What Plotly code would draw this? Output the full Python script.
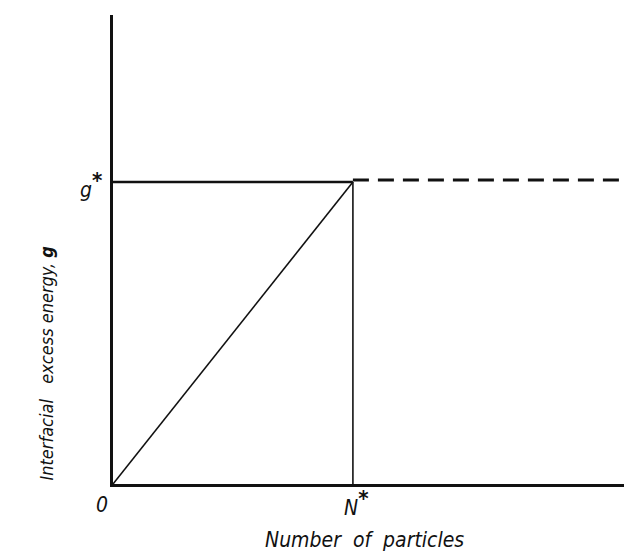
import plotly.graph_objects as go

# Schematic: interfacial excess energy vs. number of particles
n_star = 1.0          # critical number of particles N*
g_star = 1.0          # interfacial excess energy at N*
x_max = 2.13          # right end of the particle-number axis
y_max = 1.553         # top of the energy axis

axis_labels = ["0", "N", "g"]
x_title = "Number  of  particles"
y_title = "Interfacial   excess energy, <b>g</b>"

FONT = "Liberation Sans Narrow, Arial Narrow, DejaVu Sans Condensed, sans-serif"
INK = "#111111"
STAR = "<sup><span style='font-size:22px'><b>*</b></span></sup>"

fig = go.Figure()

# diagonal from the origin to (N*, g*)
fig.add_trace(go.Scatter(x=[0, n_star], y=[0, g_star], mode="lines",
                         line=dict(color=INK, width=1.6), hoverinfo="skip"))
# horizontal g* level up to N*
fig.add_trace(go.Scatter(x=[0, n_star], y=[g_star, g_star], mode="lines",
                         line=dict(color=INK, width=2.6), hoverinfo="skip"))
# vertical line at N*
fig.add_trace(go.Scatter(x=[n_star, n_star], y=[0, g_star], mode="lines",
                         line=dict(color=INK, width=1.6), hoverinfo="skip"))
# dashed continuation beyond N*
fig.add_trace(go.Scatter(x=[n_star, x_max], y=[g_star * 1.007, g_star * 1.007], mode="lines",
                         line=dict(color=INK, width=3, dash="16px,9px"), hoverinfo="skip"))

fig.update_xaxes(range=[0, x_max], showline=True, linecolor=INK, linewidth=2.5,
                 showgrid=False, zeroline=False, showticklabels=False, ticks="")
fig.update_yaxes(range=[0, y_max], showline=True, linecolor=INK, linewidth=2.5,
                 showgrid=False, zeroline=False, showticklabels=False, ticks="")

lab_font = dict(family=FONT, size=21, color=INK)
fig.add_annotation(x=0, y=0, xref="x", yref="y", text="<i>" + axis_labels[0] + "</i>",
                   showarrow=False, xshift=-11, yshift=-21, font=lab_font)
fig.add_annotation(x=n_star, y=0, xref="x", yref="y",
                   text="<i>" + axis_labels[1] + "</i>" + STAR, showarrow=False,
                   xshift=4, yshift=-19, font=lab_font)
fig.add_annotation(x=0, y=g_star, xref="x", yref="y",
                   text="<i>" + axis_labels[2] + "</i>" + STAR, showarrow=False,
                   xshift=-22, yshift=-3, font=lab_font)

fig.add_annotation(x=0.493, y=-0.119, xref="paper", yref="paper",
                   xanchor="center", yanchor="middle",
                   text="<i>" + x_title + "</i>", showarrow=False,
                   font=dict(family=FONT, size=21, color=INK))
fig.add_annotation(x=-0.13, y=0.258, xref="paper", yref="paper",
                   xanchor="center", yanchor="middle",
                   text="<i>" + y_title + "</i>", showarrow=False, textangle=-90,
                   font=dict(family=FONT, size=18, color=INK))

fig.update_layout(width=624, height=558, showlegend=False,
                  margin=dict(l=113, r=0, t=15, b=74),
                  paper_bgcolor="white", plot_bgcolor="white")

fig.write_html("out.html")
